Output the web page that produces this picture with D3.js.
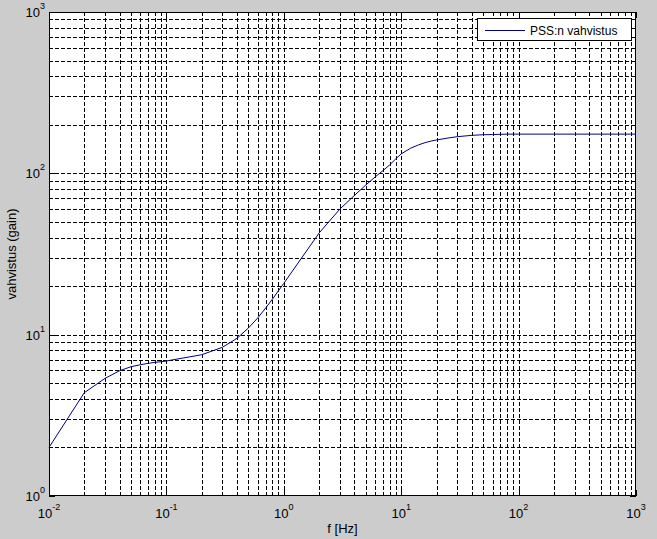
<!DOCTYPE html>
<html><head><meta charset="utf-8">
<script src="https://cdnjs.cloudflare.com/ajax/libs/d3/7.8.5/d3.min.js"></script>
<style>
html,body{margin:0;padding:0;background:#cccccc;}
svg{display:block;font-family:"Liberation Sans",Arial,sans-serif;}
</style></head>
<body>
<svg id="chart" width="657" height="539"></svg>
<script>
// data
const freqs = [0.01,0.02,0.03,0.04,0.05,0.06,0.07,0.08,0.09,
  0.1,0.2,0.3,0.4,0.5,0.6,0.7,0.8,0.9,
  1,2,3,4,5,6,7,8,9,
  10,12,14,16,18,20,25,30,40,50,60,70,80,90,
  100,200,300,400,500,600,700,800,900,1000];
const gains = [2.0,4.37,5.36,5.98,6.33,6.51,6.64,6.74,6.80,
  6.87,7.51,8.35,9.5,11.0,12.7,14.6,16.6,18.7,
  20.8,42.7,60,73,84.7,95,104,113,123,
  132,143,150,155,158.5,161,165.5,168.7,172,173.5,174,174.5,175,175,
  175,175,175,175,175,175,175,175,175,175];
const xExps = [-2,-1,0,1,2,3];
const yExps = [0,1,2,3];
const legendLabel = "PSS:n vahvistus";
const xLabel = "f [Hz]";
const yLabel = "vahvistus (gain)";

const svg = d3.select("#chart");
const L=49, R=636, T=12, B=496;
const x = d3.scaleLog().domain([1e-2,1e3]).range([L,R]);
const y = d3.scaleLog().domain([1,1e3]).range([B,T]);

svg.append("rect").attr("x",L).attr("y",T).attr("width",R-L).attr("height",B-T).attr("fill","#fff");

function logTicks(e0,e1){const t=[];for(let e=e0;e<e1;e++){for(let k=1;k<=9;k++)t.push(k*Math.pow(10,e));}t.push(Math.pow(10,e1));return t;}
const xt = logTicks(-2,3), yt = logTicks(0,3);

const grid = svg.append("g").attr("stroke","#000").attr("stroke-width",1).attr("stroke-dasharray","4,2").attr("shape-rendering","crispEdges");
grid.selectAll("line.v").data(xt.filter(d=>d>1e-2&&d<1e3)).enter().append("line")
  .attr("x1",d=>Math.round(x(d))+0.5).attr("x2",d=>Math.round(x(d))+0.5).attr("y1",T).attr("y2",B);
grid.selectAll("line.h").data(yt.filter(d=>d>1&&d<1e3)).enter().append("line")
  .attr("y1",d=>Math.round(y(d))+0.5).attr("y2",d=>Math.round(y(d))+0.5).attr("x1",L).attr("x2",R);

// axes with inward ticks
function isMajor(d){const l=Math.log10(d);return Math.abs(l-Math.round(l))<1e-9;}
const ax = svg.append("g").attr("shape-rendering","crispEdges");
xt.forEach(d=>{
  const px=Math.round(x(d))+0.5, len=isMajor(d)?6:3;
  ax.append("line").attr("x1",px).attr("x2",px).attr("y1",B).attr("y2",B-len).attr("stroke","#000");
  ax.append("line").attr("x1",px).attr("x2",px).attr("y1",T).attr("y2",T+len).attr("stroke","#000");
});
yt.forEach(d=>{
  const py=Math.round(y(d))+0.5, len=isMajor(d)?6:3;
  ax.append("line").attr("y1",py).attr("y2",py).attr("x1",L).attr("x2",L+len).attr("stroke","#000");
  ax.append("line").attr("y1",py).attr("y2",py).attr("x1",R).attr("x2",R-len).attr("stroke","#000");
});
svg.append("rect").attr("x",L+0.5).attr("y",T+0.5).attr("width",R-L-1).attr("height",B-T-1)
  .attr("fill","none").attr("stroke","#000").attr("shape-rendering","crispEdges");

// tick labels
const xl = svg.append("g").attr("font-size",13).attr("fill","#000");
xExps.forEach(e=>{
  const t = xl.append("text").attr("x",x(Math.pow(10,e))).attr("y",518).attr("text-anchor","middle");
  t.append("tspan").text("10");
  t.append("tspan").attr("font-size",9).attr("dy",-8).text(String(e));
});
yExps.forEach(e=>{
  const t = xl.append("text").attr("x",45).attr("y",y(Math.pow(10,e))+5).attr("text-anchor","end");
  t.append("tspan").text("10");
  t.append("tspan").attr("font-size",9).attr("dy",-8).text(String(e));
});

svg.append("text").attr("x",(L+R)/2).attr("y",533).attr("text-anchor","middle").attr("font-size",13).text(xLabel);
svg.append("text").attr("transform",`translate(16,${(T+B)/2}) rotate(-90)`).attr("text-anchor","middle").attr("font-size",13).text(yLabel);

// curve
const line = d3.line().x((d,i)=>x(freqs[i])).y(d=>y(d));
svg.append("path").datum(gains).attr("d",line).attr("fill","none").attr("stroke","#000080").attr("stroke-width",1);

// legend
const lg = svg.append("g");
lg.append("rect").attr("x",477.5).attr("y",18.5).attr("width",154).attr("height",22).attr("fill","#fff").attr("stroke","#000").attr("shape-rendering","crispEdges");
lg.append("line").attr("x1",485).attr("x2",525).attr("y1",30.5).attr("y2",30.5).attr("stroke","#000080");
lg.append("text").attr("x",530).attr("y",35).attr("font-size",12).text(legendLabel);
</script>
</body></html>
